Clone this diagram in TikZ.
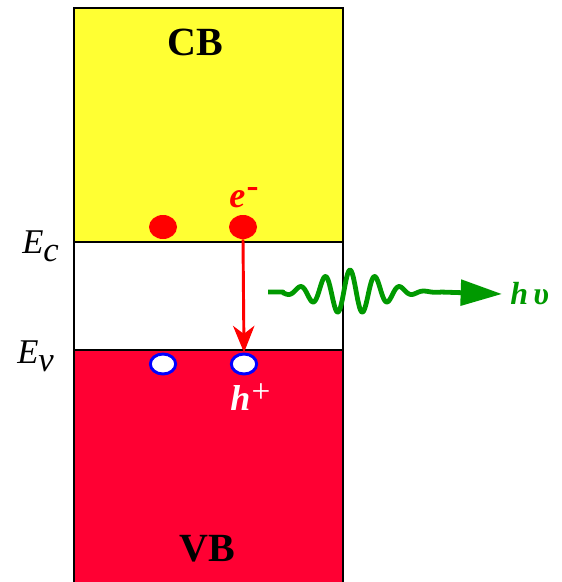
\documentclass[tikz,border=0pt]{standalone}
\usepackage{fontspec}
\setmainfont{Liberation Serif}
\usetikzlibrary{arrows.meta,shapes.geometric}
\definecolor{cbyellow}{RGB}{255,255,51}
\definecolor{vbred}{RGB}{255,0,51}
\definecolor{phgreen}{RGB}{0,153,0}
\begin{document}
\begin{tikzpicture}[x=0.75pt,y=-0.75pt,
  bandline/.style={black,line width=1.5pt},
  electron/.style={ellipse,fill=red,draw=none,minimum width=21pt,minimum height=18pt,inner sep=0pt},
  hole/.style={ellipse,fill=white,draw=blue,line width=2.2pt,minimum width=19pt,minimum height=15pt,inner sep=0pt},
  bandlabel/.style={font=\fontsize{30}{34}\selectfont\bfseries,inner sep=0pt},
  levellabel/.style={font=\fontsize{26}{30}\selectfont\itshape,inner sep=0pt},
  carrier/.style={font=\fontsize{27}{30}\selectfont\bfseries\itshape,inner sep=0pt},
  photon/.style={phgreen,line width=3.6pt}]
\useasboundingbox (0,0) rectangle (561,582);
% bands
\fill[cbyellow] (74,8) rectangle (343,242);
\fill[vbred] (74,350) rectangle (343,590);
\draw[bandline] (74,590) -- (74,8) -- (343,8) -- (343,590);
\draw[bandline] (74,242) -- (343,242);
\draw[bandline] (74,350) -- (343,350);
% labels
\node[bandlabel] (cb) at (195,42) {CB};
\node[bandlabel] (vb) at (207,549) {VB};
\node[levellabel,anchor=base west] (ec) at (22,253) {E\raisebox{-6pt}{c}};
\node[levellabel,anchor=base west] (ev) at (17,363) {E\raisebox{-6pt}{v}};
% carriers
\node[electron] (e1) at (163,227) {};
\node[electron] (e2) at (243,227) {};
\node[hole] (h1) at (163,364) {};
\node[hole] (h2) at (244,364) {};
\node[carrier,text=red,anchor=base west] (el) at (229,207) {e\hspace{1pt}\raisebox{7pt}{\normalfont\bfseries -}};
\node[carrier,text=white,anchor=base west] (hl) at (230,410) {h\hspace{1pt}\raisebox{6pt}{\normalfont\fontsize{25}{27}\selectfont +}};
% recombination arrow
\draw[red,line width=2.2pt,-{Stealth[length=20pt,width=16pt,inset=6pt]}] (e2.south) -- (h2.north);
% photon
\coordinate (ws) at (268,292);
\coordinate (we) at (440,292);
\node[carrier,text=phgreen,font=\fontsize{24}{26}\selectfont\bfseries\itshape,anchor=west] (hv) at (510,294) {h\hspace{4pt}υ};
\draw[photon,line join=round] (ws) -- (283,292) -- plot[domain=-67:90,samples=200,smooth] ({350+\x},{292-22*exp(-(\x/42)*(\x/42))*cos(14.4*\x)}) -- (we);
\draw[photon,-{Triangle[length=31pt,width=19pt]}] (we) -- ([xshift=-6pt]hv.west);
\end{tikzpicture}
\end{document}
